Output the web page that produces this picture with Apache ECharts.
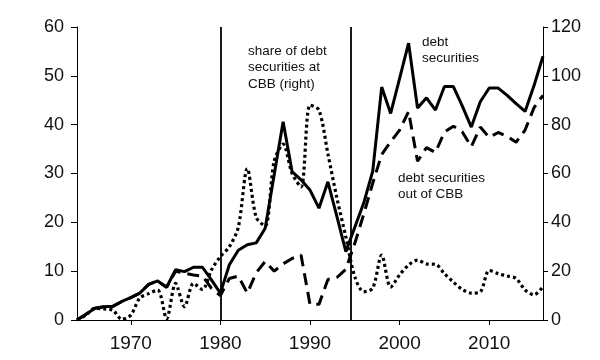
<!DOCTYPE html>
<html>
<head>
<meta charset="utf-8">
<script src="https://cdn.jsdelivr.net/npm/echarts@6/dist/echarts.min.js"></script>
<style>
html,body{margin:0;padding:0;background:#fff;}
#chart{width:600px;height:360px;}
</style>
</head>
<body>
<div id="chart"></div>
<script>
const years = [1964,1965,1966,1967,1968,1969,1970,1971,1972,1973,1974,1975,1976,1977,1978,1979,
  1980,1981,1982,1983,1984,1985,1986,1987,1988,1989,1990,1991,1992,1993,1994,1995,1996,1997,1998,1999,
  2000,2001,2002,2003,2004,2005,2006,2007,2008,2009,2010,2011,2012,2013,2014,2015,2016];

// debt securities (left axis)
const debtSecurities = [0,1.2,2.4,2.7,2.8,3.8,4.6,5.5,7.3,8.0,6.7,10.3,9.9,10.8,10.8,8.2,
  5.5,11.3,14.3,15.4,15.8,18.8,29.7,40.6,30.4,28.7,26.6,22.9,28.3,21.2,14.0,19.0,24.0,30.5,47.7,42.3,
  49.5,56.7,43.4,45.5,43.0,47.8,47.8,43.8,39.5,44.7,47.5,47.5,46.0,44.3,42.7,48.0,54.0];

// debt securities out of CBB (left axis)
const debtOutCBB = [0,1.2,2.4,2.7,2.8,3.8,4.6,5.5,7.3,8.0,6.7,10.0,9.6,9.2,9.0,6.5,
  5.0,8.5,9.0,5.5,9.7,12.0,10.0,11.5,12.6,13.3,3.2,3.2,8.3,8.7,10.4,15.7,21.7,28.0,33.9,36.5,
  38.9,42.7,32.5,35.3,34.3,38.5,39.7,38.5,35.5,39.5,37.4,38.4,37.6,36.4,38.9,43.5,46.0];

// share of debt securities at CBB (right axis, %)
const shareAtCBB = [0,2.0,4.8,4.5,4.0,0.3,2.0,9.0,10.8,12.3,0.5,15.0,5.5,15.0,12.5,20.5,
  26.0,30.0,38.0,62.0,42.0,38.5,65.0,72.0,60.0,54.5,88.0,86.0,68.0,50.0,34.0,17.7,11.6,13.0,26.6,13.5,
  18.5,22.5,24.5,23.0,22.8,19.0,15.5,12.5,11.0,11.5,20.3,19.0,18.0,17.0,12.3,10.3,13.7];

const xTickYears = [1970,1980,1990,2000,2010];
const breakYears = [1980,1994.6];

const labelShare = 'share of debt\nsecurities at\nCBB (right)';
const labelDebt = 'debt\nsecurities';
const labelOut = 'debt securities\nout of CBB';

const pair = (ys) => years.map((y,i)=>[y, ys[i]]);

const chart = echarts.init(document.getElementById('chart'), null, {renderer:'canvas'});
const FONT = '"Liberation Sans", Arial, sans-serif';
const axisCol = '#000';

chart.setOption({
  animation:false,
  backgroundColor:'#fff',
  grid:{left:77, right:57, top:27, bottom:40, outerBoundsMode:'none'},
  xAxis:{
    type:'value', min:1964, max:2016,
    axisLine:{show:true, onZero:false, lineStyle:{color:axisCol,width:1}},
    axisTick:{show:true, inside:false, length:5, customValues:xTickYears, lineStyle:{color:axisCol}},
    axisLabel:{customValues:xTickYears, formatter:(v)=>String(v), color:'#111', fontSize:19, fontFamily:FONT, margin:14},
    splitLine:{show:false}
  },
  yAxis:[
    {type:'value', min:0, max:60, interval:10, position:'left',
     axisLine:{show:true, lineStyle:{color:axisCol,width:1}},
     axisTick:{show:true, length:6, lineStyle:{color:axisCol}},
     axisLabel:{color:'#111', fontSize:18, fontFamily:FONT, margin:13},
     splitLine:{show:false}},
    {type:'value', min:0, max:120, interval:20, position:'right',
     axisLine:{show:true, lineStyle:{color:axisCol,width:1}},
     axisTick:{show:true, length:5, lineStyle:{color:axisCol}},
     axisLabel:{color:'#111', fontSize:18, fontFamily:FONT, margin:8},
     splitLine:{show:false}}
  ],
  series:[
    {name:'share of debt securities at CBB (right)', type:'line', yAxisIndex:1,
     data:pair(shareAtCBB), symbol:'none', smooth:0.3,
     lineStyle:{color:'#000', width:3.2, type:[3,3], cap:'butt'}},
    {name:'debt securities out of CBB', type:'line', yAxisIndex:0,
     data:pair(debtOutCBB), symbol:'none',
     lineStyle:{color:'#000', width:3, type:[12,7], cap:'butt'}},
    {name:'debt securities', type:'line', yAxisIndex:0,
     data:pair(debtSecurities), symbol:'none',
     lineStyle:{color:'#000', width:3},
     markLine:{silent:true, symbol:'none', label:{show:false},
       lineStyle:{color:'#000', width:1.8, type:'solid'},
       data:breakYears.map(y=>({xAxis:y}))}}
  ],
  graphic:[
    {type:'text', left:248, top:43, style:{text:labelShare, fontSize:13.5, lineHeight:16.5, fontFamily:FONT, fill:'#111'}},
    {type:'text', left:422, top:34, style:{text:labelDebt, fontSize:13.5, lineHeight:16.5, fontFamily:FONT, fill:'#111'}},
    {type:'text', left:398, top:170, style:{text:labelOut, fontSize:13.5, lineHeight:16.5, fontFamily:FONT, fill:'#111'}}
  ]
});
</script>
</body>
</html>
